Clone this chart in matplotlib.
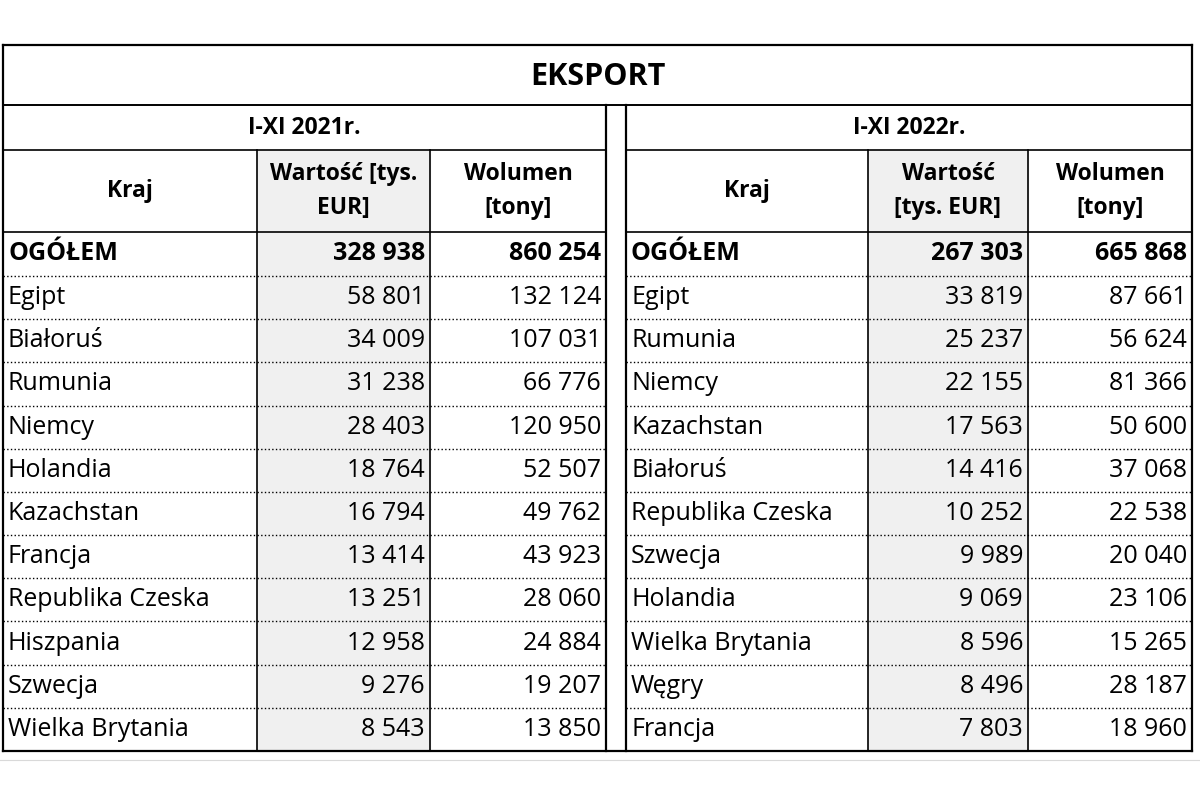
import matplotlib
matplotlib.use("Agg")
import matplotlib.pyplot as plt

title = "EKSPORT"
period_2021 = "I-XI 2021r."
period_2022 = "I-XI 2022r."
total_2021 = ("OGÓŁEM", "328 938", "860 254")
total_2022 = ("OGÓŁEM", "267 303", "665 868")
countries_2021 = ["Egipt", "Białoruś", "Rumunia", "Niemcy", "Holandia", "Kazachstan",
                  "Francja", "Republika Czeska", "Hiszpania", "Szwecja", "Wielka Brytania"]
value_2021 = ["58 801", "34 009", "31 238", "28 403", "18 764", "16 794",
              "13 414", "13 251", "12 958", "9 276", "8 543"]
volume_2021 = ["132 124", "107 031", "66 776", "120 950", "52 507", "49 762",
               "43 923", "28 060", "24 884", "19 207", "13 850"]
countries_2022 = ["Egipt", "Rumunia", "Niemcy", "Kazachstan", "Białoruś", "Republika Czeska",
                  "Szwecja", "Holandia", "Wielka Brytania", "Węgry", "Francja"]
value_2022 = ["33 819", "25 237", "22 155", "17 563", "14 416", "10 252",
              "9 989", "9 069", "8 596", "8 496", "7 803"]
volume_2022 = ["87 661", "56 624", "81 366", "50 600", "37 068", "22 538",
               "20 040", "23 106", "15 265", "28 187", "18 960"]

plt.rcParams["font.family"] = "Open Sans"
fig = plt.figure(figsize=(12, 8), dpi=100)
ax = fig.add_axes([0, 0, 1, 1])
ax.set_xlim(0, 1200); ax.set_ylim(800, 0); ax.axis("off")

L, R = 3, 1192
top, r1, r2, r3, r4 = 45, 105, 150, 232, 276
rh = (751 - 276) / 11
rows_y = [r4 + i * rh for i in range(12)]
bottom = rows_y[-1]
FS = 18

def hl(y, x0, x1, ls="-", lw=1.2, c="black"):
    ax.plot([x0, x1], [y, y], color=c, lw=lw, ls=ls)
def vl(x, y0, y1, lw=1.2):
    ax.plot([x, x], [y0, y1], color="black", lw=lw)

hl(760, 0, 1200, c="#d9d9d9", lw=0.8)

def table(x0, c1, c2, x1, period, total, names, vals, vols, hdr_val):
    ax.add_patch(plt.Rectangle((c1, r2), c2 - c1, bottom - r2, color="#f0f0f0", zorder=0))
    ax.text((x0 + x1) / 2, (r1 + r2) / 2, period, ha="center", va="center", fontsize=FS - 1.5, fontweight="bold")
    hm = (r2 + r3) / 2
    ax.text((x0 + c1) / 2, hm, "Kraj", ha="center", va="center", fontsize=FS - 1.5, fontweight="bold")
    ax.text((c1 + c2) / 2, hm, hdr_val, ha="center", va="center", fontsize=FS - 1.5, fontweight="bold", linespacing=1.5)
    ax.text((c2 + x1) / 2, hm, "Wolumen\n[tony]", ha="center", va="center", fontsize=FS - 1.5, fontweight="bold", linespacing=1.5)
    ym = (r3 + r4) / 2
    ax.text(x0 + 5, ym, total[0], ha="left", va="center", fontsize=FS, fontweight="bold")
    ax.text(c2 - 5, ym, total[1], ha="right", va="center", fontsize=FS, fontweight="bold")
    ax.text(x1 - 5, ym, total[2], ha="right", va="center", fontsize=FS, fontweight="bold")
    for i, (n, v, w) in enumerate(zip(names, vals, vols)):
        y = rows_y[i] + rh / 2
        ax.text(x0 + 5, y, n, ha="left", va="center", fontsize=FS)
        ax.text(c2 - 5, y, v, ha="right", va="center", fontsize=FS)
        ax.text(x1 - 5, y, w, ha="right", va="center", fontsize=FS)
        hl(rows_y[i], x0, x1, ls=":", lw=1.0)
    hl(r2, x0, x1); hl(r3, x0, x1)
    vl(c1, r2, bottom); vl(c2, r2, bottom)

table(L, 257, 430, 606, period_2021, total_2021, countries_2021, value_2021, volume_2021, "Wartość [tys.\nEUR]")
table(626, 868, 1028, R, period_2022, total_2022, countries_2022, value_2022, volume_2022, "Wartość\n[tys. EUR]")

ax.text(598, 77, title, ha="center", va="center", fontsize=22, fontweight="bold")
hl(top, L, R, lw=1.6); hl(r1, L, R, lw=1.4); hl(bottom, L, R, lw=1.6)
vl(L, top, bottom, lw=1.6); vl(R, top, bottom, lw=1.6)
vl(606, r1, bottom, lw=1.6); vl(626, r1, bottom, lw=1.6)

fig.savefig("out.png", dpi=100, facecolor="white")
